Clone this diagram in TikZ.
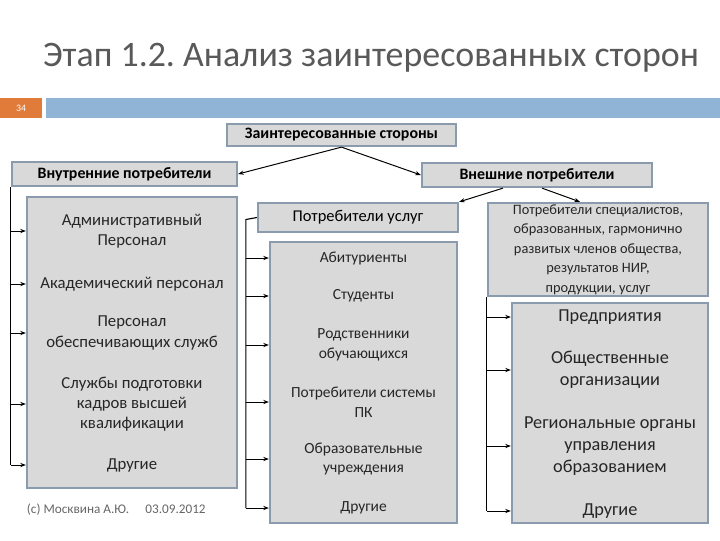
\documentclass[tikz,border=0pt]{standalone}
\usepackage{fontspec}
\setmainfont{Carlito}
\usetikzlibrary{arrows.meta,positioning,calc}
\definecolor{boxfill}{HTML}{D9D9D9}
\definecolor{boxline}{HTML}{8A9BAD}
\definecolor{barblue}{HTML}{8FB4D6}
\definecolor{barorange}{HTML}{E07B39}
\definecolor{titlegray}{HTML}{595959}
\frenchspacing
\tikzset{
    greybox/.style={draw=boxline, line width=1.6pt, fill=boxfill, inner sep=0pt},
    headbox/.style={greybox, font=\bfseries\fontsize{11.3}{13}\selectfont},
    item/.style={align=center, font=\fontsize{11}{14}\selectfont, text=black!85},
    leftitem/.style={item, font=\fontsize{11.9}{14.3}\selectfont},
    bigitem/.style={align=center, font=\fontsize{13}{15.5}\selectfont, text=black!85},
    link/.style={-{Stealth[length=4pt,width=3pt]}, line width=0.7pt},
}
\begin{document}
\begin{tikzpicture}[x=0.025cm, y=-0.025cm]
    \useasboundingbox (0,0) rectangle (720,540);

    % Title and slide bar
    \node[text=titlegray, font=\fontsize{25.5}{30}\selectfont] (title) at (371,58) {Этап 1.2. Анализ заинтересованных сторон};
    \fill[barorange] (0,98) rectangle (42,118);
    \fill[barblue] (46,98) rectangle (720,118);
    \node[text=white, font=\scriptsize] (num) at (21,108) {34};

    % Header boxes
    \node[headbox, minimum width=229*0.025cm, minimum height=22*0.025cm] (stake) at (341.5,135) {Заинтересованные стороны};
    \node[headbox, minimum width=225*0.025cm, minimum height=24*0.025cm] (inner) at (124.5,174) {Внутренние потребители};
    \node[headbox, minimum width=230*0.025cm, minimum height=24*0.025cm] (outer) at (537,175) {Внешние потребители};

    % Content boxes
    \node[greybox, minimum width=210*0.025cm, minimum height=291*0.025cm] (lbox) at (132,342.5) {};
    \node[greybox, minimum width=200*0.025cm, minimum height=29*0.025cm, font=\fontsize{11.7}{14}\selectfont] (services) at (358,217.5) {Потребители услуг};
    \node[greybox, minimum width=187*0.025cm, minimum height=281*0.025cm] (mbox) at (363.5,382.5) {};
    \node[greybox, minimum width=220*0.025cm, minimum height=93*0.025cm, align=center, font=\fontsize{10.2}{13.9}\selectfont, text=black!85] (spec) at (598,249.5)
        {Потребители специалистов,\\образованных, гармонично\\развитых членов общества,\\результатов НИР,\\продукции, услуг};
    \node[greybox, minimum width=196*0.025cm, minimum height=220*0.025cm] (rbox) at (610,413) {};

    % Internal items
    \node[leftitem] (a1) at (132,231) {Административный\\Персонал};
    \node[leftitem] (a2) at (132,284) {Академический персонал};
    \node[leftitem] (a3) at (132,333) {Персонал\\обеспечивающих служб};
    \node[leftitem] (a4) at (132,404) {Службы подготовки\\кадров высшей\\квалификации};
    \node[leftitem] (a5) at (132,465) {Другие};

    % Service items
    \node[item] (m1) at (363.5,258) {Абитуриенты};
    \node[item] (m2) at (363.5,296) {Студенты};
    \node[item] (m3) at (363.5,345) {Родственники\\обучающихся};
    \node[item] (m4) at (363.5,402) {Потребители системы\\ПК};
    \node[item] (m5) at (363.5,459) {Образовательные\\учреждения};
    \node[item] (m6) at (363.5,508) {Другие};

    % External items
    \node[bigitem] (r1) at (610,317) {Предприятия};
    \node[bigitem] (r2) at (610,370) {Общественные\\организации};
    \node[bigitem] (r3) at (610,446) {Региональные органы\\управления\\образованием};
    \node[bigitem] (r4) at (610,511) {Другие};

    \node[anchor=west, text=black!60, font=\fontsize{9.4}{11}\selectfont] (copy) at (22,510) {(c) Москвина А.Ю.\quad\ 03.09.2012};

    % Top-level arrows
    \draw[link] (stake.south) -- (inner.east);
    \draw[link] (stake.south) -- (outer.west);
    \coordinate (o1) at ($(outer.south)+(-34,0)$);
    \coordinate (o2) at ($(outer.south)+(5,0)$);
    \draw[link] (o1) -- (services.north east);
    \draw[link] (o2) -- ($(spec.north)+(-18,0)$);

    % Left bracket
    \coordinate (lt) at (inner.south west);
    \draw[line width=0.8pt] (lt) -- (lt |- a5);
    \foreach \i in {a1,a2,a3,a4,a5}
        \draw[link] (lt |- \i) -- (lbox.west |- \i);

    % Middle bracket
    \coordinate (mt) at ($(services.west)+(-11,2)$);
    \draw[line width=0.8pt] (services.west) -- (mt) -- (mt |- m6);
    \foreach \i in {m1,m2,m3,m4,m5,m6}
        \draw[link] (mt |- \i) -- (mbox.west |- \i);

    % Right bracket
    \coordinate (rt) at (spec.south west);
    \draw[line width=0.8pt] (rt) -- (rt |- r4);
    \foreach \i in {r1,r2,r3,r4}
        \draw[link] (rt |- \i) -- (rbox.west |- \i);
\end{tikzpicture}
\end{document}
